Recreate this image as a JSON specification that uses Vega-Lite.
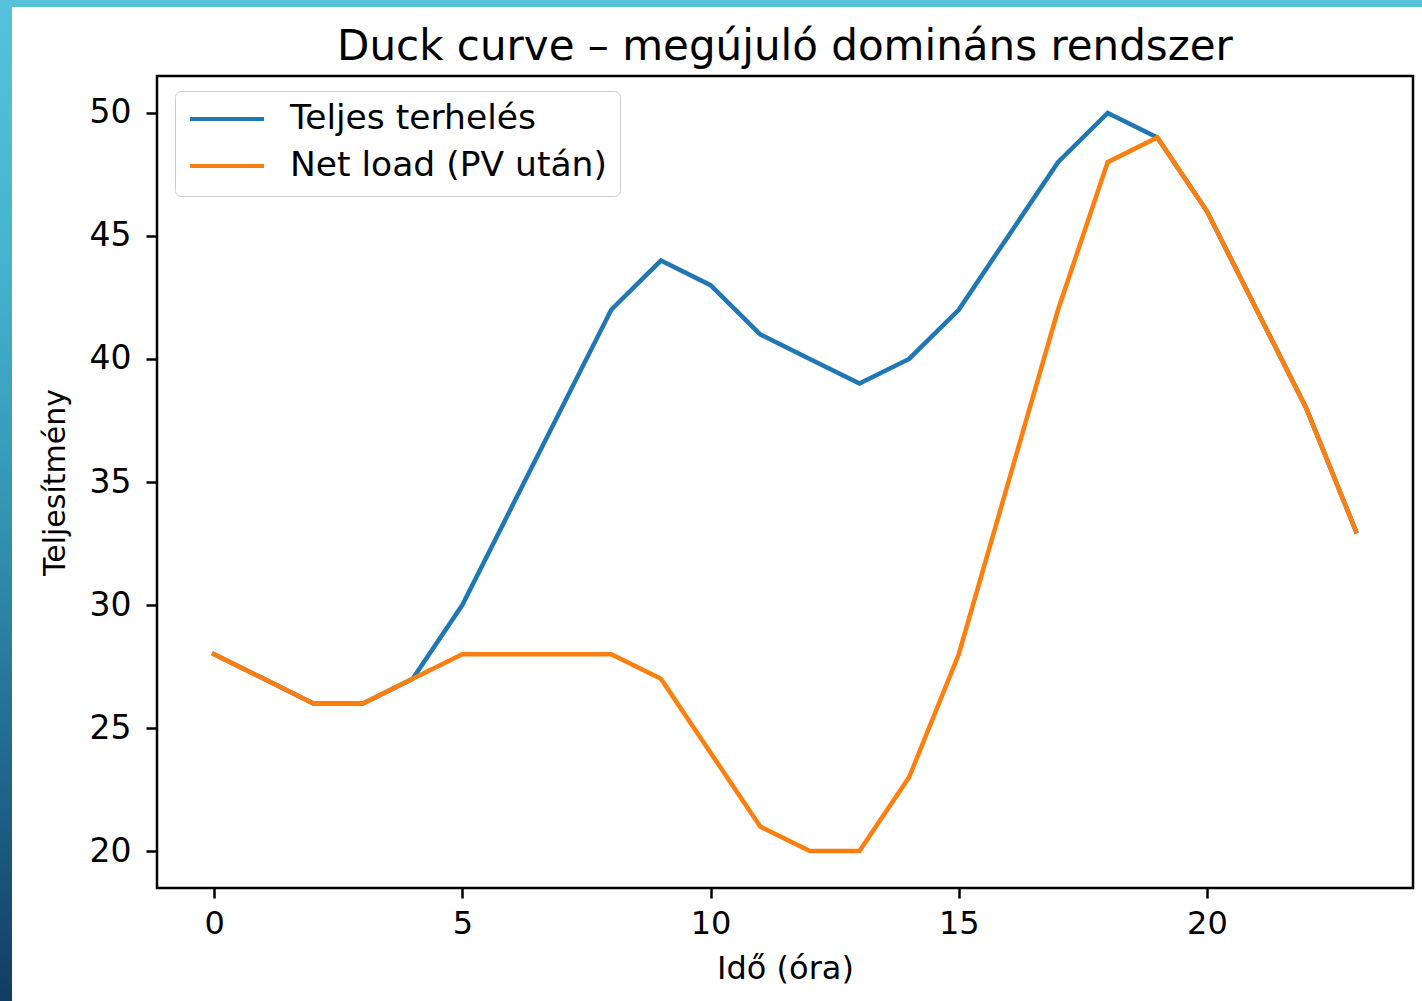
{
  "$schema": "https://vega.github.io/schema/vega-lite/v6.json",
  "padding": 0,
  "background": "white",
  "spacing": 0,
  "bounds": "flush",
  "config": {
    "view": {"stroke": null},
    "font": "DejaVu Sans"
  },
  "vconcat": [
    {
      "width": 1422,
      "height": 7,
      "view": {"fill": "#55c3da", "stroke": null},
      "data": {"values": []},
      "mark": "rect"
    },
    {
      "spacing": 145,
      "bounds": "flush",
      "hconcat": [
        {
          "width": 12,
          "height": 994,
          "view": {
            "stroke": null,
            "fill": {
              "gradient": "linear",
              "x1": 0, "y1": 0, "x2": 0, "y2": 1,
              "stops": [
                {"offset": 0, "color": "#54c2da"},
                {"offset": 0.25, "color": "#45b4cf"},
                {"offset": 0.5, "color": "#3595b5"},
                {"offset": 0.75, "color": "#226a90"},
                {"offset": 1, "color": "#113c63"}
              ]
            }
          },
          "data": {"values": []},
          "mark": "rect"
        },
        {
          "spacing": 68,
          "bounds": "flush",
          "vconcat": [
            {
              "width": 1,
              "height": 1,
              "view": {"stroke": null},
              "data": {"values": []},
              "mark": "rect"
            },
            {
              "width": 1256,
              "height": 812,
              "view": {"stroke": "black", "strokeWidth": 2.5, "fill": "white"},
              "title": {
                "text": "Duck curve – megújuló domináns rendszer",
                "fontSize": 42,
                "fontWeight": "normal",
                "font": "DejaVu Sans",
                "color": "black",
                "baseline": "alphabetic",
                "frame": "group",
                "offset": -26,
                "anchor": "middle"
              },
              "data": {
                "values": [
                  {"ora": 0, "ertek": 28, "sor": "Teljes terhelés"},
                  {"ora": 1, "ertek": 27, "sor": "Teljes terhelés"},
                  {"ora": 2, "ertek": 26, "sor": "Teljes terhelés"},
                  {"ora": 3, "ertek": 26, "sor": "Teljes terhelés"},
                  {"ora": 4, "ertek": 27, "sor": "Teljes terhelés"},
                  {"ora": 5, "ertek": 30, "sor": "Teljes terhelés"},
                  {"ora": 6, "ertek": 34, "sor": "Teljes terhelés"},
                  {"ora": 7, "ertek": 38, "sor": "Teljes terhelés"},
                  {"ora": 8, "ertek": 42, "sor": "Teljes terhelés"},
                  {"ora": 9, "ertek": 44, "sor": "Teljes terhelés"},
                  {"ora": 10, "ertek": 43, "sor": "Teljes terhelés"},
                  {"ora": 11, "ertek": 41, "sor": "Teljes terhelés"},
                  {"ora": 12, "ertek": 40, "sor": "Teljes terhelés"},
                  {"ora": 13, "ertek": 39, "sor": "Teljes terhelés"},
                  {"ora": 14, "ertek": 40, "sor": "Teljes terhelés"},
                  {"ora": 15, "ertek": 42, "sor": "Teljes terhelés"},
                  {"ora": 16, "ertek": 45, "sor": "Teljes terhelés"},
                  {"ora": 17, "ertek": 48, "sor": "Teljes terhelés"},
                  {"ora": 18, "ertek": 50, "sor": "Teljes terhelés"},
                  {"ora": 19, "ertek": 49, "sor": "Teljes terhelés"},
                  {"ora": 20, "ertek": 46, "sor": "Teljes terhelés"},
                  {"ora": 21, "ertek": 42, "sor": "Teljes terhelés"},
                  {"ora": 22, "ertek": 38, "sor": "Teljes terhelés"},
                  {"ora": 23, "ertek": 33, "sor": "Teljes terhelés"},
                  {"ora": 0, "ertek": 28, "sor": "Net load (PV után)"},
                  {"ora": 1, "ertek": 27, "sor": "Net load (PV után)"},
                  {"ora": 2, "ertek": 26, "sor": "Net load (PV után)"},
                  {"ora": 3, "ertek": 26, "sor": "Net load (PV után)"},
                  {"ora": 4, "ertek": 27, "sor": "Net load (PV után)"},
                  {"ora": 5, "ertek": 28, "sor": "Net load (PV után)"},
                  {"ora": 6, "ertek": 28, "sor": "Net load (PV után)"},
                  {"ora": 7, "ertek": 28, "sor": "Net load (PV után)"},
                  {"ora": 8, "ertek": 28, "sor": "Net load (PV után)"},
                  {"ora": 9, "ertek": 27, "sor": "Net load (PV után)"},
                  {"ora": 10, "ertek": 24, "sor": "Net load (PV után)"},
                  {"ora": 11, "ertek": 21, "sor": "Net load (PV után)"},
                  {"ora": 12, "ertek": 20, "sor": "Net load (PV után)"},
                  {"ora": 13, "ertek": 20, "sor": "Net load (PV után)"},
                  {"ora": 14, "ertek": 23, "sor": "Net load (PV után)"},
                  {"ora": 15, "ertek": 28, "sor": "Net load (PV után)"},
                  {"ora": 16, "ertek": 35, "sor": "Net load (PV után)"},
                  {"ora": 17, "ertek": 42, "sor": "Net load (PV után)"},
                  {"ora": 18, "ertek": 48, "sor": "Net load (PV után)"},
                  {"ora": 19, "ertek": 49, "sor": "Net load (PV után)"},
                  {"ora": 20, "ertek": 46, "sor": "Net load (PV után)"},
                  {"ora": 21, "ertek": 42, "sor": "Net load (PV után)"},
                  {"ora": 22, "ertek": 38, "sor": "Net load (PV után)"},
                  {"ora": 23, "ertek": 33, "sor": "Net load (PV után)"}
                ]
              },
              "mark": {"type": "line", "strokeWidth": 4.5, "strokeJoin": "miter", "strokeCap": "square"},
              "encoding": {
                "x": {
                  "field": "ora",
                  "type": "quantitative",
                  "scale": {"domain": [-1.15, 24.15], "nice": false, "zero": false},
                  "axis": {
                    "title": "Idő (óra)",
                    "values": [0, 5, 10, 15, 20],
                    "grid": false,
                    "domain": false,
                    "tickColor": "black",
                    "tickWidth": 2.5,
                    "tickSize": 10,
                    "labelFont": "DejaVu Sans",
                    "labelFontSize": 32,
                    "labelColor": "black",
                    "labelPadding": 10,
                    "labelFlush": false,
                    "titleFont": "DejaVu Sans",
                    "titleFontSize": 32,
                    "titleFontWeight": "normal",
                    "titleColor": "black",
                    "titlePadding": 14
                  }
                },
                "y": {
                  "field": "ertek",
                  "type": "quantitative",
                  "scale": {"domain": [18.5, 51.5], "nice": false, "zero": false},
                  "axis": {
                    "title": "Teljesítmény",
                    "values": [20, 25, 30, 35, 40, 45, 50],
                    "grid": false,
                    "domain": false,
                    "tickColor": "black",
                    "tickWidth": 2.5,
                    "tickSize": 11,
                    "labelFont": "DejaVu Sans",
                    "labelFontSize": 33,
                    "labelColor": "black",
                    "labelPadding": 15,
                    "labelFlush": false,
                    "titleFont": "DejaVu Sans",
                    "titleFontSize": 30,
                    "titleFontWeight": "normal",
                    "titleColor": "black",
                    "titlePadding": 19
                  }
                },
                "color": {
                  "field": "sor",
                  "type": "nominal",
                  "sort": ["Teljes terhelés", "Net load (PV után)"],
                  "scale": {"domain": ["Teljes terhelés", "Net load (PV után)"], "range": ["#1f77b4", "#ff7f0e"]},
                  "legend": {
                    "title": null,
                    "orient": "none",
                    "legendX": 175,
                    "legendY": 91,
                    "symbolType": "stroke",
                    "symbolSize": 5476,
                    "symbolStrokeWidth": 4,
                    "clipHeight": 30,
                    "rowPadding": 12,
                    "labelFont": "DejaVu Sans",
                    "labelFontSize": 34.5,
                    "labelColor": "black",
                    "labelOffset": 24,
                    "labelLimit": 500,
                    "padding": 13,
                    "strokeColor": "#cccccc",
                    "fillColor": "rgba(255,255,255,0.8)",
                    "cornerRadius": 6
                  }
                }
              }
            }
          ]
        }
      ]
    }
  ]
}
